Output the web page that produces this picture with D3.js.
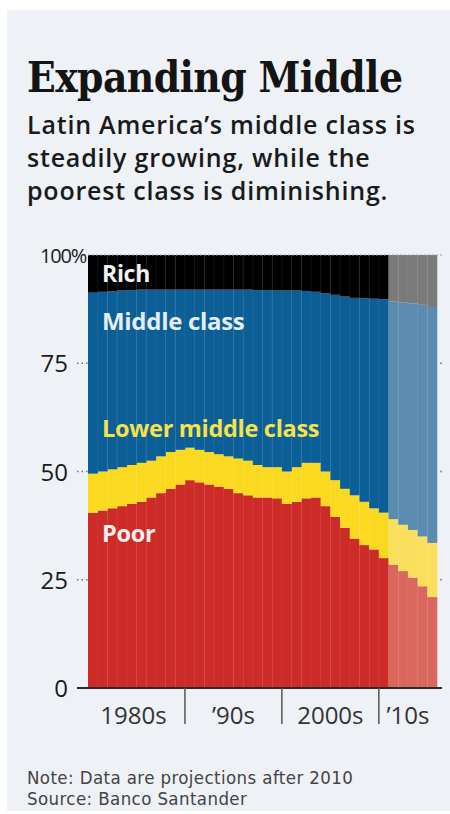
<!DOCTYPE html>
<html>
<head>
<meta charset="utf-8">
<script src="https://cdn.jsdelivr.net/npm/d3@7"></script>
<style>
  body { margin: 0; background: #fff; }
  svg { display: block; }
</style>
</head>
<body>
<div id="chart"></div>
<script>
// shares of population by class, % (after 2010 = projection)
const years = d3.range(1980, 2016);
const poor        = [40.5,41,41.5,42,42.5,43,44,45,46,47, 48,47.5,47,46.5,46,45,44.5,44,44,43.8, 42.5,43,43.8,44,42,39.5,37,34.5,33,32, 30,28.5,27,25.5,23.5,21];
const lowerMiddle = [9,9,9,9,9,9,8.5,8.5,8.5,8, 7.5,7.5,7.5,7.5,7.5,8,8,7.5,7,7.2, 7.5,8,8.2,8,8,8.5,9,10,10,9.5, 10.5,10.5,10.7,11,11.5,12.5];
const middle      = [41.8,41.5,41.1,40.8,40.4,40,39.5,38.5,37.5,37, 36.5,37,37.5,38,38.5,39,39.5,40.4,40.9,40.8, 41.8,40.8,39.7,39.5,41.2,42.8,44.4,45.6,47,48.4, 49.3,50.3,51.3,52.3,53.5,54.5];
const rich        = [8.7,8.5,8.4,8.2,8.1,8,8,8,8,8, 8,8,8,8,8,8,8,8.1,8.1,8.2, 8.2,8.2,8.3,8.5,8.8,9.2,9.6,9.9,10,10.1, 10.2,10.7,11,11.2,11.5,12];
const lastActual = 2010;
const decades = [
  {label: "1980s", from: 1980, to: 1989},
  {label: "\u201990s", from: 1990, to: 1999},
  {label: "2000s", from: 2000, to: 2009},
  {label: "\u201910s", from: 2010, to: 2015}
];
const yTicks = [0, 25, 50, 75, 100];

const W = 450, H = 814;
const plot = {left: 88, right: 437, top: 255, bottom: 688};

const keys = ["poor", "lowerMiddle", "middle", "rich"];
const colors = {
  poor:        ["#cc2b27", "#d9675c"],
  lowerMiddle: ["#fbd91f", "#f9df5c"],
  middle:      ["#0c5f96", "#5b8bb0"],
  rich:        ["#000000", "#7a7a7a"]
};

const table = years.map((y, i) => ({
  year: y, poor: poor[i], lowerMiddle: lowerMiddle[i], middle: middle[i], rich: rich[i]
}));

const svg = d3.select("#chart").append("svg")
  .attr("width", W).attr("height", H);

// panel
svg.append("rect").attr("x", 7).attr("y", 10).attr("width", W - 7).attr("height", 801)
  .attr("fill", "#eef1f6");

// title + subtitle
svg.append("text").attr("x", 27).attr("y", 92)
  .style("font-family", "'DejaVu Serif Condensed', 'DejaVu Serif', serif").style("font-weight", "bold")
  .style("font-size", "42px").style("letter-spacing", "-0.6px").attr("fill", "#141414")
  .text("Expanding Middle");

const sub = ["Latin America\u2019s middle class is", "steadily growing, while the", "poorest class is diminishing."];
svg.selectAll(".sub").data(sub).enter().append("text")
  .attr("class", "sub")
  .attr("x", 27).attr("y", (d, i) => 134 + i * 33)
  .style("font-family", "'Open Sans', sans-serif").style("font-weight", 600)
  .style("font-size", "25px").style("letter-spacing", "0.8px").attr("fill", "#1a1a1a")
  .text(d => d);

const x = d3.scaleBand().domain(years).range([plot.left, plot.right]).paddingInner(0).paddingOuter(0);
const y = d3.scaleLinear().domain([0, 100]).range([plot.bottom, plot.top]);

const series = d3.stack().keys(keys)(table);

svg.append("g").selectAll("g")
  .data(series).enter().append("g")
  .selectAll("rect")
  .data(s => s.map(d => ({key: s.key, d})))
  .enter().append("rect")
  .attr("x", e => x(e.d.data.year))
  .attr("width", x.bandwidth() + 0.3)
  .attr("y", e => y(e.d[1]))
  .attr("height", e => y(e.d[0]) - y(e.d[1]))
  .attr("fill", e => colors[e.key][e.d.data.year > lastActual ? 1 : 0]);

// faint column seams
svg.append("g").selectAll("line")
  .data(years.slice(1)).enter().append("line")
  .attr("x1", d => x(d)).attr("x2", d => x(d))
  .attr("y1", plot.top).attr("y2", plot.bottom)
  .attr("stroke", "#fff").attr("stroke-opacity", 0.07).attr("stroke-width", 1);

// y axis: labels and dotted ticks
const yl = svg.append("g");
yTicks.forEach(t => {
  if (t === 100) {
    yl.append("line").attr("x1", 84).attr("x2", 442).attr("y1", y(t)).attr("y2", y(t))
      .attr("stroke", "#9aa0a6").attr("stroke-width", 1.2).attr("stroke-dasharray", "2,2");
  } else if (t > 0) {
    yl.append("line").attr("x1", 77).attr("x2", 88).attr("y1", y(t)).attr("y2", y(t))
      .attr("stroke", "#777").attr("stroke-width", 1.3).attr("stroke-dasharray", "1.5,3");
    yl.append("circle").attr("cx", 441).attr("cy", y(t)).attr("r", 0.9).attr("fill", "#777");
  }
  yl.append("text")
    .attr("x", t === 100 ? 86 : 68)
    .attr("y", y(t) + (t === 100 ? 8 : 9))
    .attr("text-anchor", "end")
    .style("font-family", "'Open Sans', sans-serif")
    .style("font-size", t === 100 ? "20px" : "24px")
    .style("letter-spacing", t === 100 ? "-1.2px" : "0")
    .attr("fill", "#1a1a1a")
    .text(t === 100 ? "100%" : t);
});

// baseline
svg.append("line").attr("x1", 77).attr("x2", 442).attr("y1", plot.bottom).attr("y2", plot.bottom)
  .attr("stroke", "#2a2a2a").attr("stroke-width", 2);

// decade dividers and labels
decades.forEach((dc, i) => {
  if (i > 0) {
    svg.append("line").attr("x1", x(dc.from)).attr("x2", x(dc.from))
      .attr("y1", plot.bottom).attr("y2", 724)
      .attr("stroke", "#555").attr("stroke-width", 1.5);
  }
  const cx = (x(dc.from) + x(dc.to) + x.bandwidth()) / 2;
  svg.append("text").attr("x", cx - (i === 0 ? 3 : 0)).attr("y", 724)
    .attr("text-anchor", "middle")
    .style("font-family", "'Open Sans', sans-serif").style("font-size", "24px")
    .attr("fill", "#333").text(dc.label);
});

// series labels
const labels = [
  {text: "Rich", y: 282, fill: "#f2f2f2", size: 23},
  {text: "Middle class", y: 330, fill: "#e4eef6", size: 24},
  {text: "Lower middle class", y: 437, fill: "#f7e24a", size: 23.5},
  {text: "Poor", y: 542, fill: "#f6eeee", size: 23.5}
];
svg.selectAll(".lab").data(labels).enter().append("text")
  .attr("class", "lab").attr("x", 102).attr("y", d => d.y)
  .style("font-family", "'Open Sans', sans-serif").style("font-weight", "bold")
  .style("font-size", d => d.size + "px").style("letter-spacing", "-0.3px")
  .attr("fill", d => d.fill).text(d => d.text);

// notes
const notes = ["Note: Data are projections after 2010", "Source: Banco Santander"];
svg.selectAll(".note").data(notes).enter().append("text")
  .attr("class", "note").attr("x", 27).attr("y", (d, i) => 784 + i * 20.5)
  .style("font-family", "'DejaVu Sans Condensed', 'DejaVu Sans', sans-serif")
  .style("font-size", "18.5px").style("letter-spacing", "0.4px").attr("fill", "#444")
  .text(d => d);
</script>
</body>
</html>
